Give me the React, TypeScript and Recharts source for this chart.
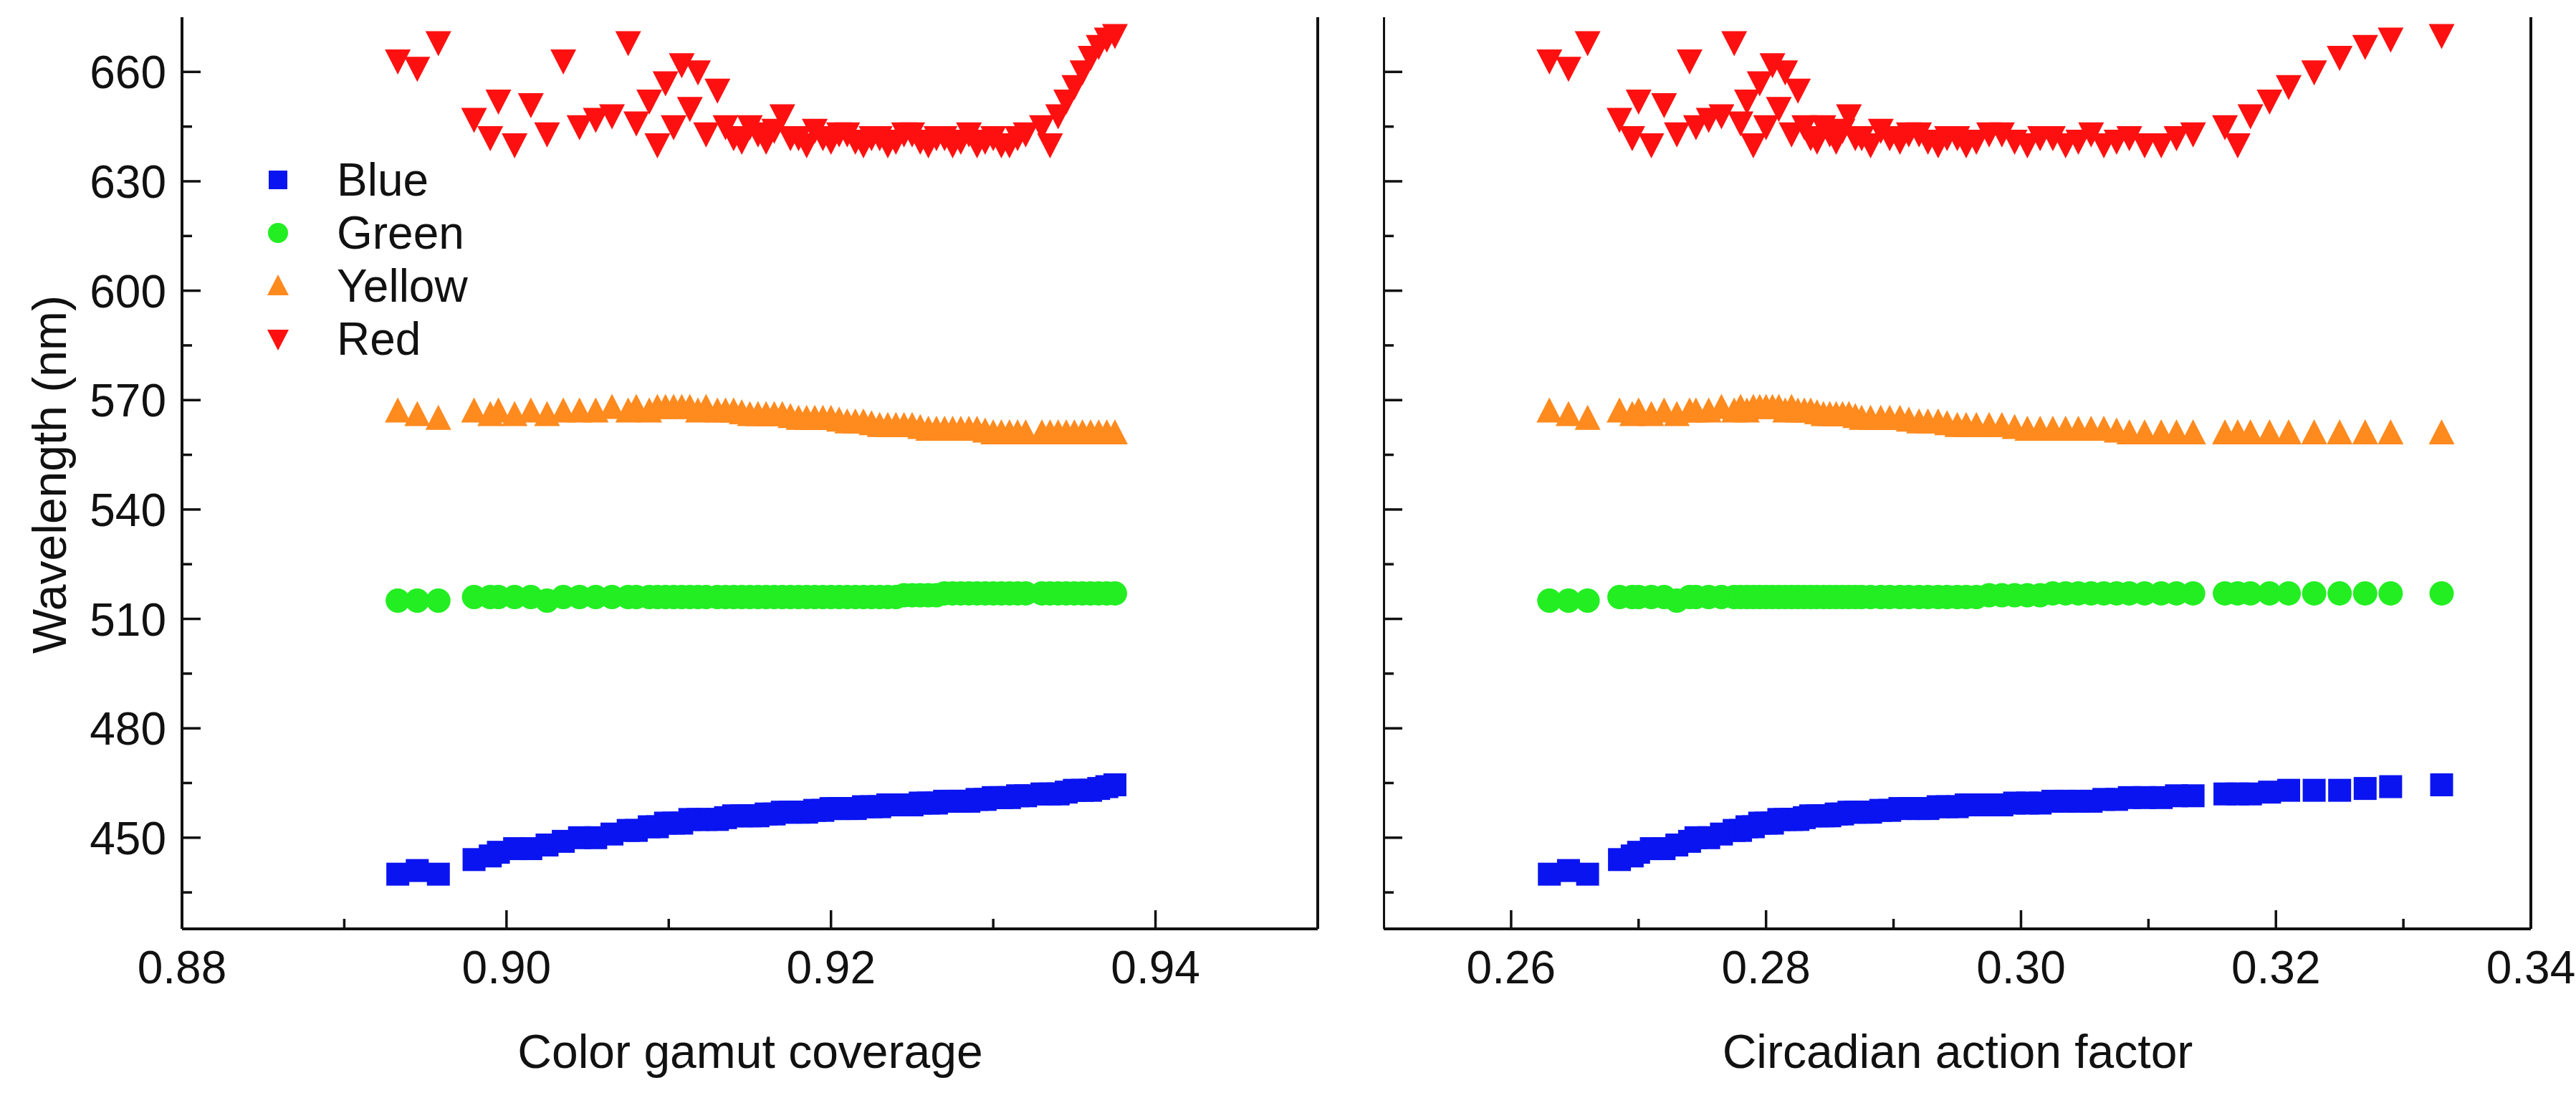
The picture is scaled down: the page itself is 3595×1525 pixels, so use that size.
import React from 'react';
import { ScatterChart, Scatter, XAxis, YAxis } from 'recharts';

// ── Data (one row per design; each has both metrics) ─────────────
const gamut = [
  0.8933, 0.8945, 0.8958, 0.898, 0.899, 0.8995, 0.9005, 0.9015, 0.9025, 0.9035,
  0.9045, 0.9055, 0.9065, 0.9075, 0.908, 0.9088, 0.9093, 0.9098, 0.9103, 0.9108,
  0.9113, 0.9118, 0.9123, 0.913, 0.9135, 0.914, 0.9145, 0.915, 0.9155, 0.916,
  0.9165, 0.917, 0.9175, 0.918, 0.9185, 0.919, 0.9195, 0.92, 0.9205, 0.921,
  0.9215, 0.922, 0.9225, 0.923, 0.9235, 0.924, 0.9245, 0.925, 0.9255, 0.926,
  0.9265, 0.927, 0.9275, 0.928, 0.9285, 0.929, 0.9295, 0.93, 0.9305, 0.931,
  0.9315, 0.932, 0.933, 0.9335, 0.934, 0.9345, 0.935, 0.9355, 0.936, 0.9365,
  0.937, 0.9375,
];
const circadian = [
  0.263, 0.2645, 0.266, 0.2685, 0.2695, 0.27, 0.271, 0.272, 0.273, 0.274,
  0.2745, 0.2755, 0.2765, 0.2775, 0.278, 0.2785, 0.279, 0.2795, 0.28, 0.2805,
  0.281, 0.2815, 0.282, 0.2825, 0.283, 0.2835, 0.284, 0.2845, 0.285, 0.2855,
  0.286, 0.2865, 0.287, 0.2875, 0.2882, 0.289, 0.2897, 0.2905, 0.2912, 0.292,
  0.2927, 0.2935, 0.2942, 0.295, 0.2957, 0.2965, 0.2975, 0.2985, 0.2995, 0.3005,
  0.3015, 0.3025, 0.3035, 0.3045, 0.3055, 0.3065, 0.3075, 0.3085, 0.3097, 0.311,
  0.3122, 0.3135, 0.316, 0.317, 0.318, 0.3195, 0.321, 0.323, 0.325, 0.327,
  0.329, 0.333,
];
const blue = [
  440, 441, 440, 444, 445, 446, 447, 447, 448, 449,
  450, 450, 451, 452, 452, 453, 453, 454, 454, 454,
  455, 455, 455, 455, 455.5, 456, 456, 456, 456, 456.5,
  456.5, 457, 457, 457, 457, 457.5, 457.5, 458, 458, 458,
  458, 458.5, 458.5, 458.5, 459, 459, 459, 459, 459.5, 459.5,
  459.5, 460, 460, 460, 460, 460.5, 460.5, 461, 461, 461,
  461.5, 461.5, 462, 462, 462, 462.5, 463, 463, 463, 463.5,
  464, 464.5,
];
const green = [
  515, 515, 515, 516, 516, 516, 516, 516, 515, 516,
  516, 516, 516, 516, 516, 516, 516, 516, 516, 516,
  516, 516, 516, 516, 516, 516, 516, 516, 516, 516,
  516, 516, 516, 516, 516, 516, 516, 516, 516, 516,
  516, 516, 516, 516, 516, 516, 516.5, 516.5, 516.5, 516.5,
  516.5, 517, 517, 517, 517, 517, 517, 517, 517, 517,
  517, 517, 517, 517, 517, 517, 517, 517, 517, 517,
  517, 517,
];
const yellow = [
  567, 566, 565, 567, 566, 567, 566, 567, 566, 567,
  567, 567, 568, 567, 568, 567, 568, 568, 568, 568,
  568, 567, 568, 567, 567, 567, 566.5, 566, 566, 566,
  566, 566, 565.5, 565, 565, 565, 565, 565, 564.5, 564,
  564, 564, 563.5, 563, 563, 563, 563, 563, 562.5, 562,
  562, 562, 562, 562, 562, 562, 561.5, 561, 561, 561,
  561, 561, 561, 561, 561, 561, 561, 561, 561, 561,
  561, 561,
];
const red = [
  663, 661, 668, 647, 642, 652, 640, 651, 643, 663,
  645, 647, 648, 668, 646, 652, 640, 657, 645, 662,
  650, 660, 643, 655, 645, 642, 641, 645, 643, 641,
  644, 648, 642, 642, 640, 644, 642, 641, 643, 643,
  641, 640, 642, 642, 640, 641, 643, 643, 641, 640,
  642, 642, 640, 641, 643, 640, 641, 642, 640, 640,
  642, 643, 645, 640, 648, 652, 656, 660, 664, 667,
  669, 670,
];

const SERIES = [
  { name: 'Blue', values: blue, color: '#0a14f0', shape: 'square' },
  { name: 'Green', values: green, color: '#22ee22', shape: 'circle' },
  { name: 'Yellow', values: yellow, color: '#ff8a1e', shape: 'up' },
  { name: 'Red', values: red, color: '#ff1010', shape: 'down' },
];

const Y_TICKS = [435, 450, 465, 480, 495, 510, 525, 540, 555, 570, 585, 600, 615, 630, 645, 660];
const GAMUT_TICKS = [0.88, 0.89, 0.9, 0.91, 0.92, 0.93, 0.94, 0.95];
const CIRC_TICKS = [0.25, 0.26, 0.27, 0.28, 0.29, 0.3, 0.31, 0.32, 0.33, 0.34];

const FONT = '"Liberation Sans", Arial, sans-serif';
const FS = 64;
const MAJ = 26;
const MIN = 14;

// ── Marker shapes ───────────────────────────────────────────────
function Marker({ cx, cy, shape, color, s = 32 }: { cx?: number; cy?: number; shape: string; color: string; s?: number }) {
  if (cx == null || cy == null) return null;
  const h = s / 2;
  if (shape === 'square') return <rect x={cx - h} y={cy - h} width={s} height={s} fill={color} />;
  if (shape === 'circle') return <circle cx={cx} cy={cy} r={h + 1} fill={color} />;
  if (shape === 'up')
    return <polygon points={`${cx},${cy - h - 3} ${cx - h - 2},${cy + h} ${cx + h + 2},${cy + h}`} fill={color} />;
  return <polygon points={`${cx},${cy + h + 3} ${cx - h - 2},${cy - h} ${cx + h + 2},${cy - h}`} fill={color} />;
}

// ── Inside ticks ────────────────────────────────────────────────
const isMajorY = (v: number) => v % 30 === 0;
const isMajorX = (v: number) => Math.round(v * 100) % 2 === 0;

function makeTick(side: 'left' | 'right' | 'bottom', labels: boolean, m: number) {
  return (props: any) => {
    const { x, y, payload } = props;
    const v = payload.value as number;
    if (side === 'bottom') {
      const major = isMajorX(v);
      const ay = y - m;
      return (
        <g>
          <line x1={x} x2={x} y1={ay} y2={ay - (major ? MAJ : MIN)} stroke="#111" strokeWidth={3.5} />
          {labels && major && (
            <text x={x} y={ay + 28} dy="0.75em" textAnchor="middle" fontSize={FS} fontFamily={FONT} fill="#111">
              {v.toFixed(2)}
            </text>
          )}
        </g>
      );
    }
    const major = isMajorY(v);
    const ax = side === 'left' ? x + m : x - m;
    const dir = side === 'left' ? 1 : -1;
    return (
      <g>
        <line x1={ax} x2={ax + dir * (major ? MAJ : MIN)} y1={y} y2={y} stroke="#111" strokeWidth={3.5} />
        {labels && major && (
          <text x={ax - 22} y={y} dy="0.36em" textAnchor="end" fontSize={FS} fontFamily={FONT} fill="#111">
            {v}
          </text>
        )}
      </g>
    );
  };
}

const AXIS = { stroke: '#111', strokeWidth: 4 };

function Panel({ xs, xDomain, xTicks, title, yLabels, width, right }: {
  xs: number[]; xDomain: [number, number]; xTicks: number[]; title: string; yLabels: boolean; width: number; right: number;
}) {
  const yw = yLabels ? 254 : 1;
  return (
    <ScatterChart width={width} height={1525} margin={{ top: 24, right, bottom: 0, left: 0 }} style={{ overflow: 'visible' }}>
      <XAxis xAxisId="b" type="number" dataKey="x" domain={xDomain} ticks={xTicks} allowDataOverflow
        axisLine={AXIS} tickLine={false} tickSize={0} tickMargin={10} height={229}
        tick={makeTick('bottom', true, 10)} interval={0} />
      <XAxis xAxisId="t" orientation="top" type="number" domain={xDomain} axisLine={AXIS} tick={false} tickLine={false} height={0} />
      <YAxis yAxisId="l" type="number" dataKey="y" domain={[425, 675]} ticks={Y_TICKS} allowDataOverflow
        axisLine={AXIS} tickLine={false} tickSize={0} tickMargin={10} width={yw}
        tick={makeTick('left', yLabels, 10)} interval={0} />
      <YAxis yAxisId="r" orientation="right" type="number" domain={[425, 675]} ticks={Y_TICKS}
        axisLine={AXIS} tickLine={false} tickSize={0} tickMargin={10} width={1}
        tick={makeTick('right', false, 10)} interval={0} />
      {SERIES.map((s) => (
        <Scatter key={s.name} xAxisId="b" yAxisId="l" name={s.name}
          data={xs.map((x, i) => ({ x, y: s.values[i] }))}
          isAnimationActive={false}
          shape={(p: any) => <Marker cx={p.cx} cy={p.cy} shape={s.shape} color={s.color} />} />
      ))}
      <text x={yw + (width - yw - right) / 2} y={1466} dy="0.36em" textAnchor="middle" fontSize={66} fontFamily={FONT} fill="#111">
        {title}
      </text>
    </ScatterChart>
  );
}

export default function App() {
  return (
    <div style={{ position: 'absolute', left: 0, top: 0, width: 3595, height: 1525, background: '#fff', fontFamily: FONT, overflow: 'hidden' }}>
      <div style={{ position: 'absolute', left: 0, top: 0 }}>
        <Panel xs={gamut} xDomain={[0.88, 0.95]} xTicks={GAMUT_TICKS} title="Color gamut coverage" yLabels width={1850} right={10} />
      </div>
      <div style={{ position: 'absolute', left: 1930, top: 0 }}>
        <Panel xs={circadian} xDomain={[0.25, 0.34]} xTicks={CIRC_TICKS} title="Circadian action factor" yLabels={false} width={1664} right={61} />
      </div>
      <div style={{ position: 'absolute', left: 69, top: 662, transform: 'translate(-50%, -50%) rotate(-90deg)', fontSize: 66, whiteSpace: 'nowrap', color: '#111' }}>
        Wavelength (nm)
      </div>
      <div style={{ position: 'absolute', left: 366, top: 214 }}>
        {SERIES.map((s) => (
          <div key={s.name} style={{ display: 'flex', alignItems: 'center', height: 74 }}>
            <svg width={44} height={44}>
              <Marker cx={22} cy={22} shape={s.shape} color={s.color} s={26} />
            </svg>
            <span style={{ marginLeft: 60, fontSize: FS, color: '#111' }}>{s.name}</span>
          </div>
        ))}
      </div>
    </div>
  );
}
